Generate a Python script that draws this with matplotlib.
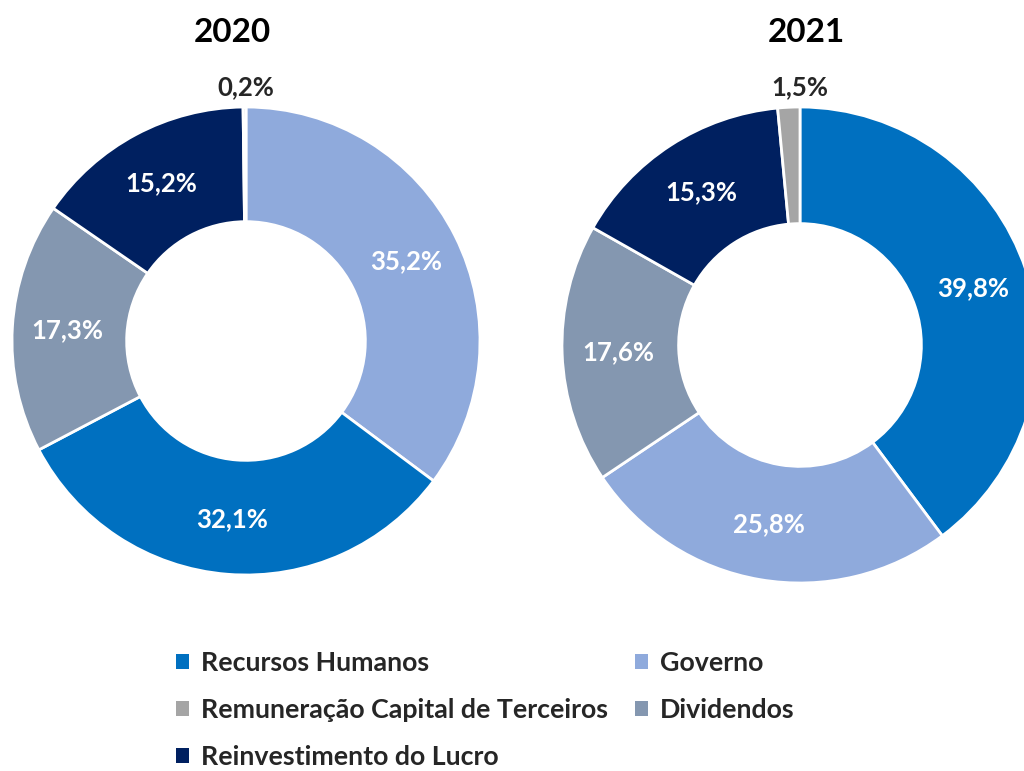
import matplotlib
matplotlib.use("Agg")
import matplotlib.pyplot as plt
import numpy as np
from matplotlib.patches import Patch

plt.rcParams['font.family'] = ['Lato', 'DejaVu Sans']
plt.rcParams['font.weight'] = 'bold'

categories = ["Recursos Humanos", "Governo", "Remuneração Capital de Terceiros",
              "Dividendos", "Reinvestimento do Lucro"]
colors = {"Recursos Humanos": "#0070C0", "Governo": "#8FAADC",
          "Remuneração Capital de Terceiros": "#A5A5A5",
          "Dividendos": "#8497B0", "Reinvestimento do Lucro": "#002060"}

years = ["2020", "2021"]
order_2020 = ["Governo", "Recursos Humanos", "Dividendos",
              "Reinvestimento do Lucro", "Remuneração Capital de Terceiros"]
values_2020 = [35.2, 32.1, 17.3, 15.2, 0.2]
order_2021 = ["Recursos Humanos", "Governo", "Dividendos",
              "Reinvestimento do Lucro", "Remuneração Capital de Terceiros"]
values_2021 = [39.8, 25.8, 17.6, 15.3, 1.5]

W, H = 1024, 771
fig = plt.figure(figsize=(W / 100, H / 100), dpi=100)

def make_axes(cx, cy, r):
    return fig.add_axes([(cx - r) / W, (H - cy - r) / H, 2 * r / W, 2 * r / H])

specs = [(246, 341, 234, order_2020, values_2020, "2020", 232),
         (800, 345, 238, order_2021, values_2021, "2021", 806)]

inner = 0.51
for cx, cy, r, order, vals, year, tx in specs:
    ax = make_axes(cx, cy, r)
    wedges, _ = ax.pie(vals, colors=[colors[c] for c in order], startangle=90,
                       counterclock=False, radius=1.0,
                       wedgeprops=dict(width=1 - inner, edgecolor='white', linewidth=2))
    ax.set_xlim(-1, 1)
    ax.set_ylim(-1, 1)
    ax.set_aspect('auto')
    ax.axis('off')
    for w, v in zip(wedges, vals):
        ang = np.deg2rad((w.theta1 + w.theta2) / 2)
        lab = f"{v:.1f}%".replace('.', ',')
        if v < 5:
            ax.text(0, 1.085, lab, ha='center', va='center', fontsize=18.5,
                    fontweight='bold', color='#262626', clip_on=False)
        else:
            rr = (1 + inner) / 2 + 0.01
            ax.text(rr * np.cos(ang), rr * np.sin(ang), lab, ha='center', va='center',
                    fontsize=18.5, fontweight='bold', color='white')
    fig.text(tx / W, 1 - 32 / H, year, ha='center', va='center', fontsize=24,
             fontweight='bold', color='black')

leg_order = ["Recursos Humanos", "Remuneração Capital de Terceiros",
             "Reinvestimento do Lucro", "Governo", "Dividendos"]
handles = [Patch(facecolor=colors[c], edgecolor='none', label=c) for c in leg_order]
fig.legend(handles=handles, ncol=2, loc='upper left',
           bbox_to_anchor=(176 / W, 1 - 651 / H), frameon=False,
           borderpad=0, borderaxespad=0,
           prop=dict(size=19.3, weight='bold'), handlelength=0.48, handleheight=0.48,
           handletextpad=0.45, columnspacing=1.0, labelspacing=0.86,
           labelcolor='#262626')

fig.savefig("out.png", dpi=100, facecolor='white')
